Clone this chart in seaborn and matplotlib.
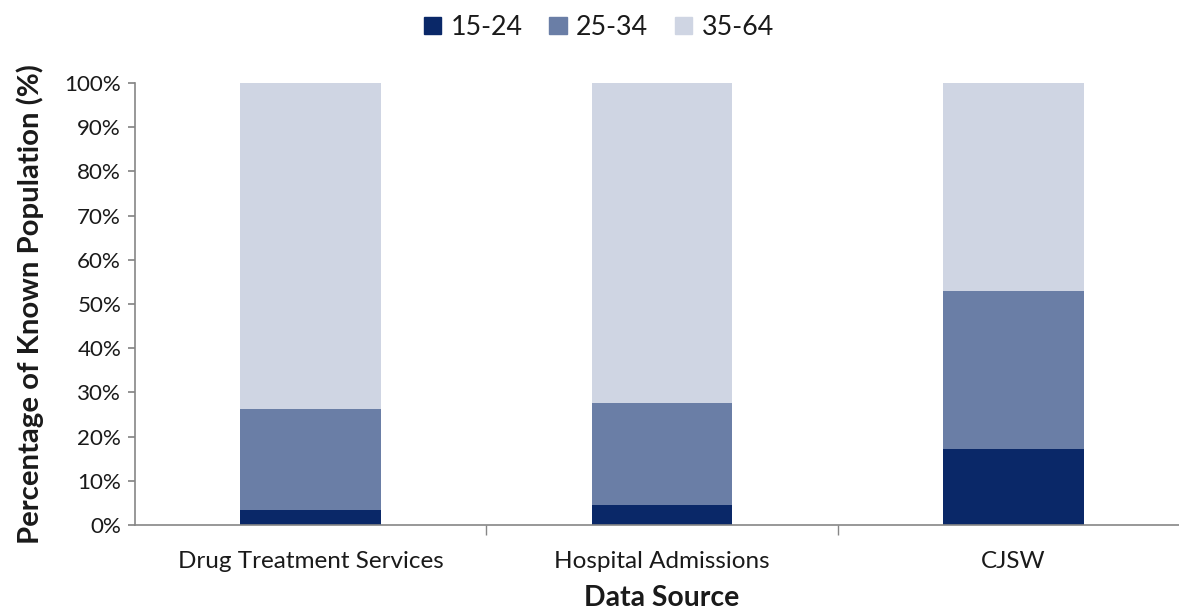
import matplotlib
matplotlib.use("Agg")
import matplotlib.pyplot as plt
import matplotlib.patches as mpatches
from matplotlib.ticker import PercentFormatter, FixedLocator
import seaborn as sns
import pandas as pd
import numpy as np

categories = ["Drug Treatment Services", "Hospital Admissions", "CJSW"]
series_names = ["15-24", "25-34", "35-64"]
age_15_24 = [3.4, 4.6, 17.1]
age_25_34 = [22.9, 22.9, 35.9]
age_35_64 = [73.7, 72.5, 47.0]
colors = ["#0A2868", "#6A7EA6", "#CFD5E3"]

sns.set_theme(style="white")
plt.rcParams["font.family"] = ["Lato", "DejaVu Sans"]
TXT = "#1a1a1a"

df = pd.DataFrame({"category": categories, "15-24": age_15_24,
                   "25-34": age_25_34, "35-64": age_35_64})
df["c1"] = df["15-24"]
df["c2"] = df["c1"] + df["25-34"]
df["c3"] = df["c2"] + df["35-64"]

fig = plt.figure(figsize=(11.79, 6.15), dpi=100)
ax = fig.add_axes([135/1179, 1-525/615, 1054/1179, (525-83)/615])

for col, color in zip(["c3", "c2", "c1"], colors[::-1]):
    sns.barplot(data=df, x="category", y=col, color=color, width=0.4,
                ax=ax, saturation=1, edgecolor="none", linewidth=0)

ax.set_ylim(0, 100)
ax.set_xlim(-0.5, 2.5)
ax.yaxis.set_major_locator(FixedLocator(np.arange(0, 101, 10)))
ax.yaxis.set_major_formatter(PercentFormatter(decimals=0))
for s in ["top", "right"]:
    ax.spines[s].set_visible(False)
for s in ["left", "bottom"]:
    ax.spines[s].set_color("#868686")
    ax.spines[s].set_linewidth(1.2)

renderer = fig.canvas.get_renderer()

def fit_size(text, target_px, weight="normal"):
    t = fig.text(0, 0, text, fontsize=20, fontweight=weight)
    w = t.get_window_extent(renderer=renderer).width
    t.remove()
    return 20 * target_px / w

xt_size = fit_size("Drug Treatment Services", 266)
yt_size = fit_size("100%", 57)
xl_size = fit_size("Data Source", 155, "bold")
yl_size = fit_size("Percentage of Known Population (%)", 480, "bold")
lg_size = fit_size("15-24", 72)

ax.tick_params(axis="y", which="major", left=True, length=5, color="#868686",
               labelsize=yt_size, labelcolor=TXT, pad=5)
ax.tick_params(axis="x", which="major", bottom=False, labelsize=xt_size,
               labelcolor=TXT, pad=13)
ax.xaxis.set_minor_locator(FixedLocator([0.5, 1.5]))
ax.tick_params(axis="x", which="minor", bottom=True, length=7, color="#868686")

ax.set_xlabel("Data Source", fontsize=xl_size, fontweight="bold", color=TXT, labelpad=9)
ax.set_ylabel("Percentage of Known Population (%)", fontsize=yl_size, fontweight="bold",
              color=TXT, labelpad=15)

handles = [mpatches.Patch(color=c, label=n) for c, n in zip(colors, series_names)]
fig.legend(handles=handles, loc="upper center", bbox_to_anchor=(0.508, 1.015), ncol=3,
           frameon=False, fontsize=lg_size, handlelength=0.65, handleheight=0.65,
           handletextpad=0.35, columnspacing=1.0, labelcolor=TXT)

fig.savefig("out.png", dpi=100)
